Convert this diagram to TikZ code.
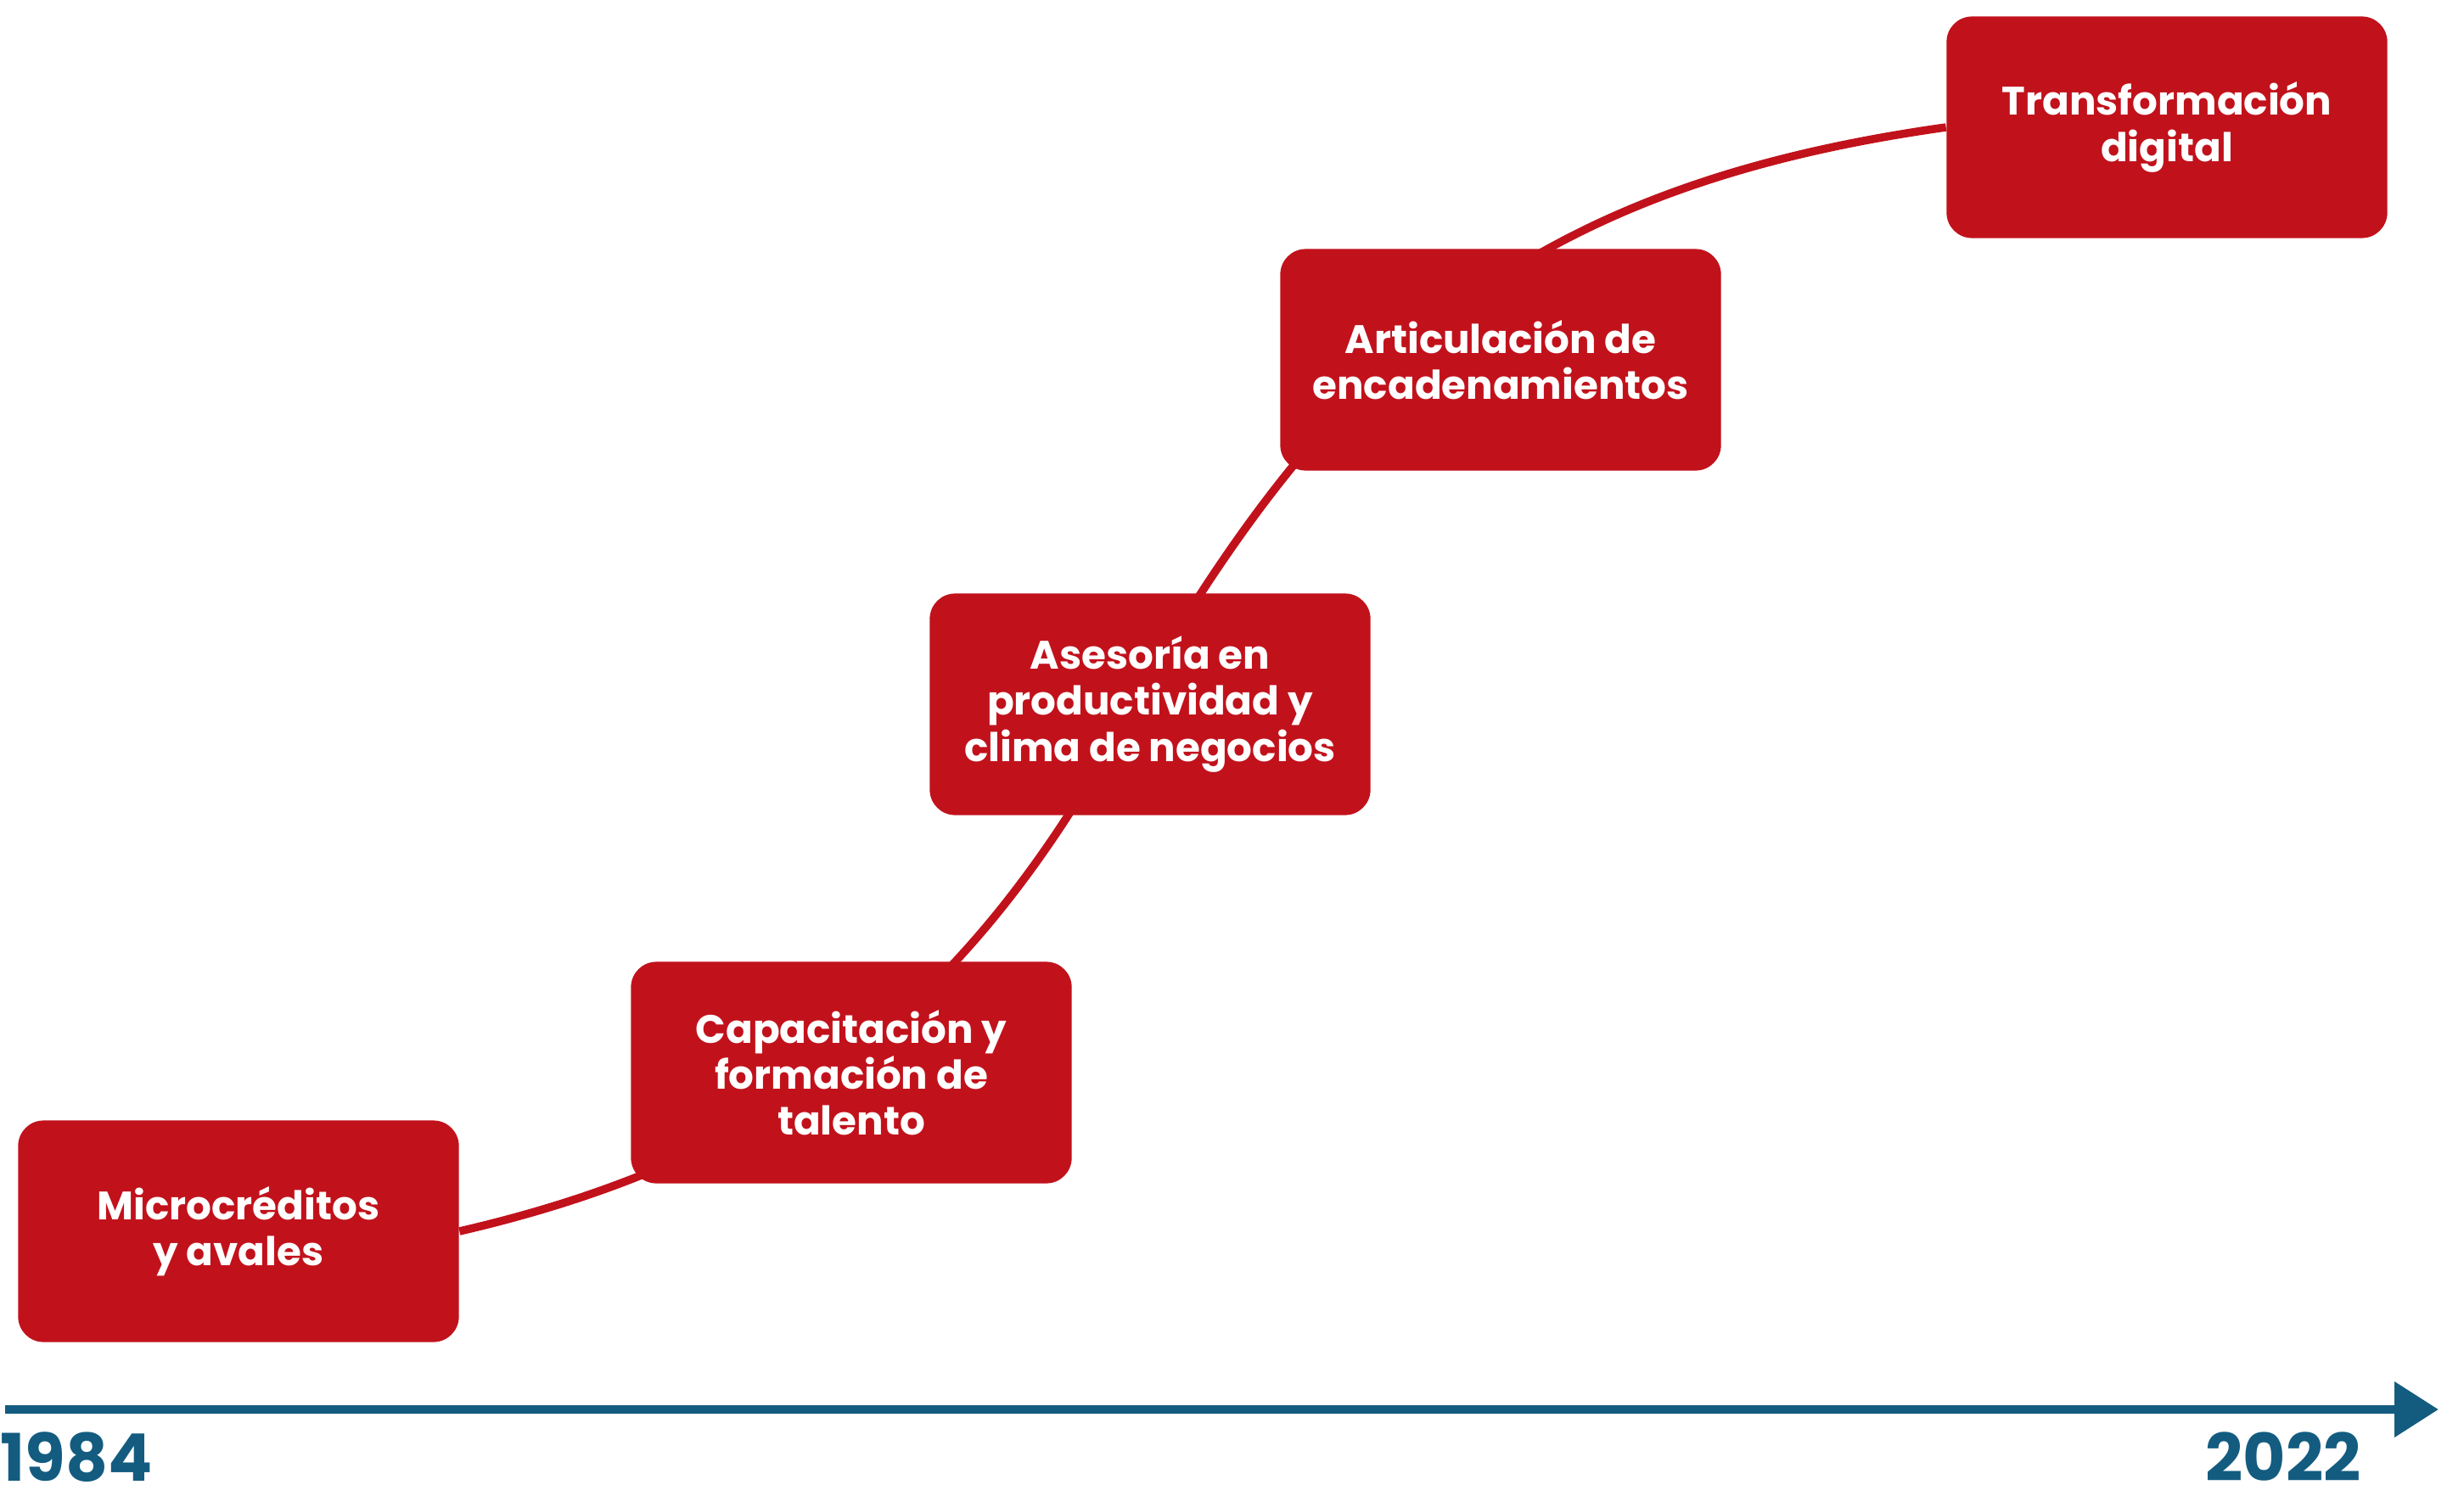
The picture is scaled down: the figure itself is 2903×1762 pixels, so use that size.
\documentclass[tikz,border=0pt]{standalone}
\usepackage{fontspec}
\setmainfont{Poppins}
\usetikzlibrary{arrows.meta, backgrounds}
\definecolor{rojo}{RGB}{193,18,28}
\definecolor{azul}{RGB}{19,92,128}
\tikzstyle{hito} = [rectangle, rounded corners=0.3cm, minimum width=5.19cm, minimum height=2.61cm, align=center, fill=rojo, text=white, font=\fontsize{13.3}{15.4}\selectfont\bfseries]
\tikzstyle{anio} = [text=azul, font=\fontsize{22}{24}\selectfont\bfseries, inner sep=0pt]
\tikzstyle{curva} = [line width=2.7pt, draw=rojo]
\tikzstyle{eje} = [line width=3.1pt, draw=azul, -{Triangle[length=0.52cm, width=0.63cm]}]

\begin{document}
\begin{tikzpicture}[x=0.01cm, y=0.01cm]
			\useasboundingbox (0,0) rectangle (2903,1762);
			\node(micro)[hito] at (281,311) {Microcréditos\\y avales};
			\node(capa)[hito] at (1003,498) {Capacitación y\\formación de\\talento};
			\node(ases)[hito] at (1355,932) {Asesoría en\\productividad y\\clima de negocios};
			\node(arti)[hito] at (1768,1338) {Articulación de\\encadenamientos};
			\node(trans)[hito] at (2553,1612) {Transformación\\digital};
			% curva de fondo
			\begin{scope}[on background layer]
				\draw [curva] (micro.east) to[out=13, in=242] ([xshift=-0.2cm]ases.center) to[out=60, in=188, in looseness=1.12] (trans.west);
			\end{scope}
			% eje del tiempo
			\coordinate (inicio) at (6,101);
			\coordinate (fin) at (2873,101);
			\draw [eje] (inicio) -- (fin);
			\node(ini)[anio, anchor=base west] at (0,17) {1984};
			\node(final)[anio, anchor=base] at (2690,17) {2022};
		\end{tikzpicture}
\end{document}
